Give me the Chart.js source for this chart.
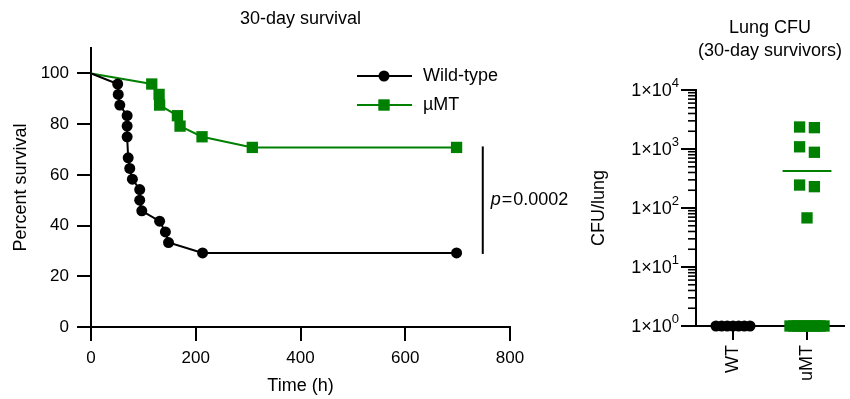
<!DOCTYPE html>
<html>
<head>
<meta charset="utf-8">
<script src="https://cdn.jsdelivr.net/npm/chart.js@4.4.1/dist/chart.umd.min.js"></script>
<style>
  html, body { margin: 0; padding: 0; background: #fff; overflow: hidden; }
  #survival { position: absolute; left: 0; top: 0; }
  #cfu { position: absolute; left: 580px; top: 0; }
</style>
</head>
<body>
<canvas id="survival" width="580" height="399"></canvas>
<canvas id="cfu" width="272" height="399"></canvas>
<script>
// 30-day survival, time in hours vs percent surviving
const wtTime  = [0, 51, 52, 55, 69, 69, 69, 71, 74, 79, 93, 93, 97, 131, 142, 148, 213, 698];
const wtSurv  = [100, 95.8, 91.7, 87.5, 83.3, 79.2, 75, 66.7, 62.5, 58.3, 54.2, 50, 45.8, 41.7, 37.5, 33.3, 29.2, 29.2];
const umtTime = [0, 116, 130, 131, 165, 170, 212, 308, 698];
const umtSurv = [100, 95.8, 91.7, 87.5, 83.3, 79.2, 75, 70.8, 70.8];
const survivalX = [0, 200, 400, 600, 800];
const survivalY = [0, 20, 40, 60, 80, 100];
const pValue = '0.0002';

// lung CFU in 30-day survivors
const cfuGroups = ['WT', 'uMT'];
const wtCfu  = [1, 1, 1, 1, 1, 1, 1];
const umtCfu = [2300, 2360, 1090, 880, 230, 245, 68, 1, 1, 1, 1, 1, 1, 1, 1, 1, 1];
const cfuDecades = [1, 10, 100, 1000, 10000];

const GREEN = '#008000';
const FONT = '"Liberation Sans", Arial, Helvetica, sans-serif';
Chart.defaults.font.family = FONT;
Chart.defaults.color = '#000';

function font(size, style) {
  return (style ? style + ' ' : '') + size + 'px ' + FONT;
}

// spread points that sit at about the same height side by side
function swarm(values, center, maxSpan, maxStep) {
  const order = values.map((v, i) => i).sort((a, b) => values[b] - values[a]);
  const xs = [];
  let group = [];
  const flush = () => {
    const step = group.length > 1 ? Math.min(maxStep, maxSpan / (group.length - 1)) : 0;
    group.forEach((idx, k) => { xs[idx] = center + (k - (group.length - 1) / 2) * step; });
    group = [];
  };
  order.forEach(i => {
    if (group.length && Math.log10(values[group[0]]) - Math.log10(values[i]) > 0.2) flush();
    group.push(i);
  });
  flush();
  return values.map((v, i) => ({ x: xs[i], y: v }));
}

function mean(arr) {
  return arr.reduce((a, b) => a + b, 0) / arr.length;
}

const axisGrid = { drawOnChartArea: false, color: '#000', lineWidth: 2, tickLength: 14 };
const axisBorder = { color: '#000', width: 2 };

const survivalDecor = {
  id: 'survivalDecor',
  afterDraw(chart) {
    const ctx = chart.ctx, area = chart.chartArea;
    const xs = chart.scales.x, ys = chart.scales.y;
    ctx.save();
    ctx.fillStyle = '#000';
    ctx.textBaseline = 'middle';
    ctx.textAlign = 'center';
    ctx.font = font(18);
    ctx.fillText('30-day survival', (area.left + area.right) / 2, 19);

    // legend
    const rows = [
      { label: 'Wild-type', color: '#000', shape: 'circle', y: 76 },
      { label: 'µMT', color: GREEN, shape: 'rect', y: 105 }
    ];
    rows.forEach(r => {
      ctx.strokeStyle = r.color;
      ctx.fillStyle = r.color;
      ctx.lineWidth = 2;
      ctx.beginPath();
      ctx.moveTo(357, r.y);
      ctx.lineTo(412, r.y);
      ctx.stroke();
      if (r.shape === 'circle') {
        ctx.beginPath();
        ctx.arc(384, r.y, 5.5, 0, Math.PI * 2);
        ctx.fill();
      } else {
        ctx.fillRect(384 - 5.7, r.y - 5.7, 11.4, 11.4);
      }
      ctx.fillStyle = '#000';
      ctx.textAlign = 'left';
      ctx.fillText(r.label, 423, r.y);
    });

    // p-value bracket between the two end points
    const bx = xs.getPixelForValue(748);
    const top = ys.getPixelForValue(umtSurv[umtSurv.length - 1]) - 1;
    const bottom = ys.getPixelForValue(wtSurv[wtSurv.length - 1]) + 1;
    ctx.strokeStyle = '#000';
    ctx.lineWidth = 2;
    ctx.beginPath();
    ctx.moveTo(bx, top);
    ctx.lineTo(bx, bottom);
    ctx.stroke();
    const ty = (top + bottom) / 2;
    let tx = bx + 8;
    ctx.font = font(18, 'italic');
    ctx.fillText('p', tx, ty);
    tx += ctx.measureText('p').width + 1;
    ctx.font = font(18);
    ctx.fillText('=', tx, ty);
    tx += ctx.measureText('=').width + 1;
    ctx.fillText(pValue, tx, ty);
    ctx.restore();
  }
};

new Chart(document.getElementById('survival'), {
  type: 'line',
  data: {
    datasets: [
      {
        label: 'Wild-type',
        data: wtTime.map((t, i) => ({ x: t, y: wtSurv[i] })),
        borderColor: '#000',
        backgroundColor: '#000',
        borderWidth: 2,
        pointStyle: 'circle',
        pointRadius: c => c.dataIndex === 0 ? 0 : 5.5,
        pointBorderWidth: 0,
        tension: 0
      },
      {
        label: 'µMT',
        data: umtTime.map((t, i) => ({ x: t, y: umtSurv[i] })),
        borderColor: GREEN,
        backgroundColor: GREEN,
        borderWidth: 2,
        pointStyle: 'rect',
        pointRadius: c => c.dataIndex === 0 ? 0 : 8,
        pointBorderWidth: 0,
        tension: 0
      }
    ]
  },
  options: {
    responsive: false,
    animation: false,
    layout: { padding: { top: 48, right: 70, left: 0, bottom: 0 } },
    plugins: { legend: { display: false }, tooltip: { enabled: false } },
    scales: {
      x: {
        type: 'linear', min: 0, max: 800,
        afterBuildTicks: s => { s.ticks = survivalX.map(v => ({ value: v })); },
        ticks: { padding: 7, font: { size: 17 }, maxRotation: 0 },
        grid: axisGrid, border: axisBorder,
        title: { display: true, text: 'Time (h)', font: { size: 18 }, padding: { top: 0, bottom: 2 } },
        afterFit: s => { s.height = 72; }
      },
      y: {
        type: 'linear', min: 0, max: 110,
        afterBuildTicks: s => { s.ticks = survivalY.map(v => ({ value: v })); },
        ticks: { padding: 8, font: { size: 17 } },
        grid: axisGrid, border: axisBorder,
        title: { display: true, text: 'Percent survival', font: { size: 18 }, padding: { top: 10, bottom: 0 } },
        afterFit: s => { s.width = 91; }
      }
    }
  },
  plugins: [survivalDecor]
});

const cfuDecor = {
  id: 'cfuDecor',
  afterDraw(chart) {
    const ctx = chart.ctx, area = chart.chartArea, ys = chart.scales.y;
    ctx.save();
    ctx.fillStyle = '#000';
    ctx.strokeStyle = '#000';
    ctx.textBaseline = 'middle';
    ctx.textAlign = 'center';
    ctx.font = font(18);
    const cx = (area.left + area.right) / 2;
    ctx.fillText('Lung CFU', cx, 28);
    ctx.fillText('(30-day survivors)', cx, 51);

    // log ticks: long at each decade, short in between
    ys.ticks.forEach(t => {
      const py = ys.getPixelForValue(t.value);
      const exp = Math.log10(t.value);
      const major = Math.abs(exp - Math.round(exp)) < 1e-9;
      const len = major ? 15 : 8;
      ctx.lineWidth = major ? 2 : 1.6;
      ctx.beginPath();
      ctx.moveTo(area.left - len, py);
      ctx.lineTo(area.left, py);
      ctx.stroke();
      if (major) {
        const base = '1×10', sup = String(Math.round(exp));
        ctx.font = font(18);
        const wb = ctx.measureText(base).width;
        ctx.font = font(13);
        const ws = ctx.measureText(sup).width;
        const right = area.left - 17;
        ctx.textAlign = 'left';
        ctx.font = font(18);
        ctx.fillText(base, right - wb - ws, py + 1);
        ctx.font = font(13);
        ctx.fillText(sup, right - ws, py - 7);
      }
    });
    ctx.restore();
  }
};

const umtMean = mean(umtCfu);
const wtMean = mean(wtCfu);

new Chart(document.getElementById('cfu'), {
  type: 'scatter',
  data: {
    datasets: [
      {
        label: 'WT',
        data: swarm(wtCfu, 1, 0.46, 0.2),
        backgroundColor: '#000',
        borderColor: '#000',
        pointStyle: 'circle',
        pointRadius: 5.5,
        borderWidth: 0,
        clip: false
      },
      {
        label: 'uMT',
        data: swarm(umtCfu, 2, 0.46, 0.2),
        backgroundColor: GREEN,
        borderColor: GREEN,
        pointStyle: 'rect',
        pointRadius: 8,
        borderWidth: 0,
        clip: false
      },
      {
        type: 'line',
        label: 'WT mean',
        data: [{ x: 0.67, y: wtMean }, { x: 1.33, y: wtMean }],
        borderColor: '#000',
        borderWidth: 2,
        pointRadius: 0,
        clip: false
      },
      {
        type: 'line',
        label: 'uMT mean',
        data: [{ x: 1.67, y: umtMean }, { x: 2.33, y: umtMean }],
        borderColor: GREEN,
        borderWidth: 2,
        pointRadius: 0,
        clip: false
      }
    ]
  },
  options: {
    responsive: false,
    animation: false,
    layout: { padding: { top: 90, right: 0, left: 0, bottom: 0 } },
    plugins: { legend: { display: false }, tooltip: { enabled: false } },
    scales: {
      x: {
        type: 'linear', min: 0.5, max: 2.5,
        afterBuildTicks: s => { s.ticks = cfuGroups.map((g, i) => ({ value: i + 1 })); },
        ticks: {
          callback: v => cfuGroups[v - 1],
          minRotation: 90, maxRotation: 90, padding: 5, font: { size: 18 }
        },
        grid: axisGrid, border: axisBorder,
        afterFit: s => { s.height = 73; }
      },
      y: {
        type: 'logarithmic', min: 1, max: 10000,
        afterBuildTicks: s => {
          const ticks = [];
          cfuDecades.forEach((d, i) => {
            if (i === cfuDecades.length - 1) { ticks.push({ value: d }); return; }
            for (let m = 1; m < 10; m++) ticks.push({ value: d * m });
          });
          s.ticks = ticks;
        },
        ticks: { display: false },
        grid: { display: false },
        border: axisBorder,
        title: { display: true, text: 'CFU/lung', font: { size: 18 }, padding: { top: 8, bottom: 0 } },
        afterFit: s => { s.width = 116; }
      }
    }
  },
  plugins: [cfuDecor]
});
</script>
</body>
</html>
